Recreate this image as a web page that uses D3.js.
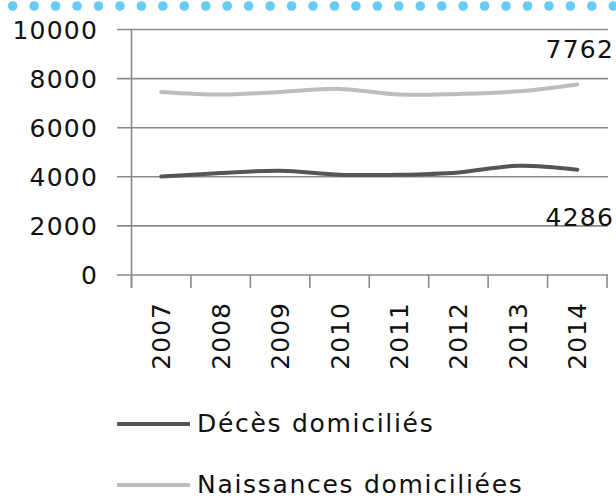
<!DOCTYPE html>
<html>
<head>
<meta charset="utf-8">
<script src="https://cdn.jsdelivr.net/npm/d3@7/dist/d3.min.js"></script>
<style>
  html, body { margin: 0; padding: 0; background: #fff; }
  svg { display: block; }
  text { font-family: "DejaVu Sans", sans-serif; fill: #111; }
</style>
</head>
<body>
<svg id="chart" width="616" height="498"></svg>
<script>
const years = ["2007","2008","2009","2010","2011","2012","2013","2014"];
const deces = [4012, 4150, 4245, 4085, 4085, 4180, 4450, 4286];
const naissances = [7457, 7350, 7457, 7580, 7350, 7375, 7480, 7762];
const yTicks = [0, 2000, 4000, 6000, 8000, 10000];
const seriesNames = ["Décès domiciliés", "Naissances domiciliées"];
const seriesColors = ["#555555", "#bdbdbd"];
const endLabels = ["4286", "7762"];

(function () {
const svg = d3.select("#chart");
const pLeft = 131.5, pRight = 607, pTop = 29.5, pBottom = 275;

// decorative dotted header
const dotG = svg.append("g");
d3.range(29).forEach(i => {
  dotG.append("circle").attr("cx", 12.7 + i * 21.45).attr("cy", 6).attr("r", 4.8).attr("fill", "#66ccf5");
});

const x = d3.scaleBand().domain(years).range([pLeft, pRight]).padding(0);
const y = d3.scaleLinear().domain([0, 10000]).range([pBottom, pTop]);

const gridColor = "#8a8a8a";

svg.append("g").selectAll("line").data(yTicks).join("line")
  .attr("x1", 117).attr("x2", 608)
  .attr("y1", d => y(d)).attr("y2", d => y(d))
  .attr("stroke", gridColor).attr("stroke-width", 1.6);

svg.append("line").attr("x1", pLeft).attr("x2", pLeft).attr("y1", y(10000)).attr("y2", 288)
  .attr("stroke", gridColor).attr("stroke-width", 1.6);

const bounds = years.map(d => x(d)).concat([x(years[years.length - 1]) + x.bandwidth()]);
svg.append("g").selectAll("line").data(bounds).join("line")
  .attr("x1", d => d).attr("x2", d => d).attr("y1", pBottom).attr("y2", 288)
  .attr("stroke", gridColor).attr("stroke-width", 1.6);

svg.append("g").selectAll("text").data(yTicks).join("text")
  .attr("x", 98).attr("y", d => y(d)).attr("dy", "0.36em")
  .attr("text-anchor", "end").attr("font-size", 25).attr("letter-spacing", 1.2)
  .text(d => d);

svg.append("g").selectAll("text").data(years).join("text")
  .attr("transform", d => `translate(${x(d) + x.bandwidth() / 2},302) rotate(-90)`)
  .attr("text-anchor", "end").attr("dy", "0.36em")
  .attr("font-size", 25).attr("letter-spacing", 1)
  .text(d => d);

const line = d3.line()
  .x((d, i) => x(years[i]) + x.bandwidth() / 2)
  .y(d => y(d))
  .curve(d3.curveCatmullRom.alpha(0.5));

[deces, naissances].forEach((s, k) => {
  svg.append("path").datum(s).attr("d", line)
    .attr("fill", "none").attr("stroke", seriesColors[k])
    .attr("stroke-width", 4).attr("stroke-linecap", "round");
});

svg.append("text").attr("x", 614).attr("y", 226).attr("text-anchor", "end")
  .attr("font-size", 25).attr("letter-spacing", 1.2).text(endLabels[0]);
svg.append("text").attr("x", 614).attr("y", 58).attr("text-anchor", "end")
  .attr("font-size", 25).attr("letter-spacing", 1.2).text(endLabels[1]);

const legY = [424, 485];
seriesNames.forEach((name, k) => {
  svg.append("line").attr("x1", 117).attr("x2", 190).attr("y1", legY[k]).attr("y2", legY[k])
    .attr("stroke", seriesColors[k]).attr("stroke-width", 4);
  svg.append("text").attr("x", 197).attr("y", legY[k] + 8)
    .attr("font-size", 25).attr("letter-spacing", 1.7).text(name);
});
})();
</script>
</body>
</html>
